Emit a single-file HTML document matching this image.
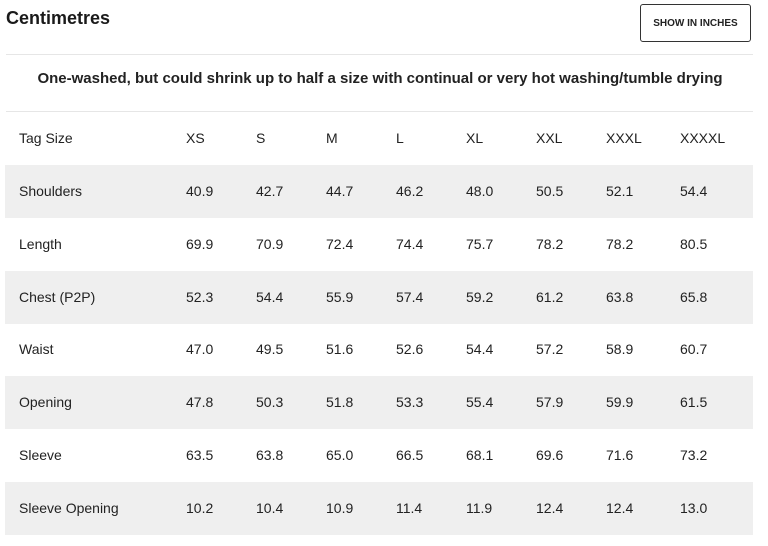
<!DOCTYPE html>
<html><head><meta charset="utf-8"><style>
body{margin:0;width:768px;height:546px;background:#fff;font-family:"Liberation Sans",sans-serif;color:#222;position:relative;overflow:hidden}
.abs{position:absolute}
h1{position:absolute;left:6px;top:8px;margin:0;font-size:18px;font-weight:bold;color:#1a1a1a}
.btn{left:640px;top:4px;width:111px;height:38px;border:1px solid #333;border-radius:3px;box-sizing:border-box;font-size:10px;font-weight:bold;display:flex;align-items:center;justify-content:center;background:#fff}
.hr{left:6px;width:747px;height:1px;background:#e6e6e6}
.sub{left:0;width:760px;top:70px;text-align:center;font-size:15px;font-weight:bold;letter-spacing:0px}
.row{left:5px;width:748px;height:53px}
.gray{background:#efefef}
.cell{position:absolute;font-size:14px;top:0;line-height:53px}
</style></head><body>
<h1>Centimetres</h1>
<div class="abs btn">SHOW IN INCHES</div>
<div class="abs hr" style="top:54px"></div>
<div class="abs sub">One-washed, but could shrink up to half a size with continual or very hot washing/tumble drying</div>
<div class="abs hr" style="top:111px"></div>
<div id="table"></div>
<script>
const sizes=["XS","S","M","L","XL","XXL","XXXL","XXXXL"];
const labels=["Shoulders","Length","Chest (P2P)","Waist","Opening","Sleeve","Sleeve Opening"];
const shoulders=["40.9","42.7","44.7","46.2","48.0","50.5","52.1","54.4"];
const length=["69.9","70.9","72.4","74.4","75.7","78.2","78.2","80.5"];
const chest=["52.3","54.4","55.9","57.4","59.2","61.2","63.8","65.8"];
const waist=["47.0","49.5","51.6","52.6","54.4","57.2","58.9","60.7"];
const opening=["47.8","50.3","51.8","53.3","55.4","57.9","59.9","61.5"];
const sleeve=["63.5","63.8","65.0","66.5","68.1","69.6","71.6","73.2"];
const sleeveOpening=["10.2","10.4","10.9","11.4","11.9","12.4","12.4","13.0"];
const rows=[shoulders,length,chest,waist,opening,sleeve,sleeveOpening];
const colX=[181,251,321,391,461,531,601,675];
const t=document.getElementById('table');
function mkRow(label,vals,top,gray,name){
  const r=document.createElement('div');
  r.className='abs row'+(gray?' gray':'');
  r.style.top=top+'px';
  
  
  const l=document.createElement('div');
  l.className='cell';l.style.left='14px';l.textContent=label;
  
  
  r.appendChild(l);
  vals.forEach((v,i)=>{
    const c=document.createElement('div');
    c.className='cell';c.style.left=colX[i]+'px';c.textContent=v;
    
    
    r.appendChild(c);
  });
  t.appendChild(r);
}
mkRow("Tag Size",sizes,112,false,"header-row");
rows.forEach((vals,i)=>mkRow(labels[i],vals,165+i*52.8,i%2===0,labels[i].toLowerCase().replace(/[^a-z0-9]+/g,'-').replace(/-$/,'')+'-row'));
</script>
</body></html>
